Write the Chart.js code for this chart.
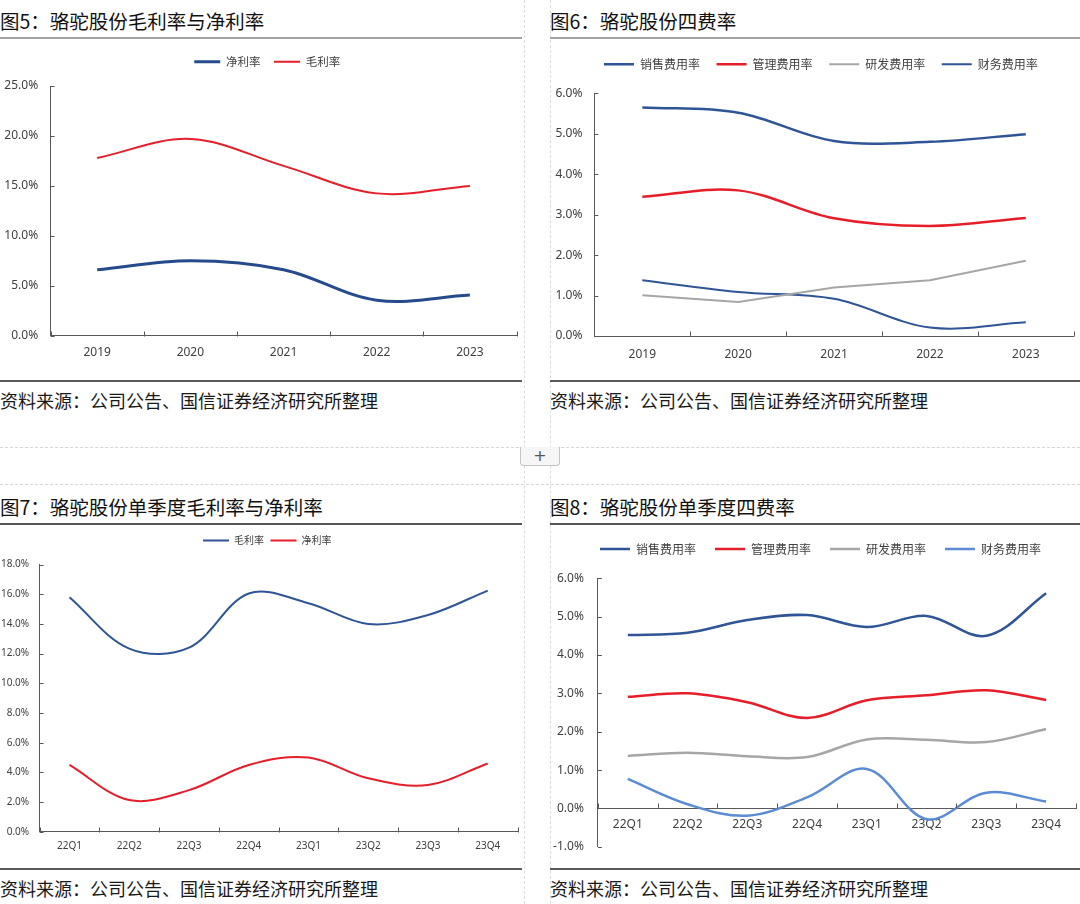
<!DOCTYPE html>
<html>
<head>
<meta charset="utf-8">
<script src="https://cdn.jsdelivr.net/npm/chart.js@4.4.1/dist/chart.umd.min.js"></script>
<style>
    body { margin: 0; width: 1080px; height: 904px; background: #fff; position: relative; overflow: hidden;
           font-family: "Noto Sans CJK SC", "Noto Sans", sans-serif; }
    .abs { position: absolute; }
    .titulo { font-size: 19.5px; line-height: 24px; color: #111; white-space: nowrap; }
    .fuente { font-size: 18px; line-height: 24px; color: #1a1a1a; white-space: nowrap; }
    .dash-h { position: absolute; left: 0; width: 1080px; height: 0; border-top: 1px dashed #d6d6d6; }
    .dash-v { position: absolute; top: 0; height: 904px; width: 0; border-left: 1px dashed #dcdcdc; }
    .boton { position: absolute; left: 520px; top: 447px; width: 40px; height: 19px; background: #f6f6f6;
             border: 1px solid #c4c4c4; border-top: none; border-radius: 0 0 4px 4px; box-sizing: border-box;
             color: #555; font: 16px/18px "DejaVu Sans", sans-serif; text-align: center; }
    canvas { position: absolute; }
</style>
</head>
<body>

<!-- marcos punteados de la tabla -->
<div class="dash-v" style="left:524px"></div>
<div class="dash-v" style="left:550px"></div>
<div class="dash-h" style="top:447px"></div>
<div class="dash-h" style="top:484px"></div>
<div class="boton">+</div>

<!-- panel 5 -->
<div class="abs titulo" style="left:0;top:9px">图5：骆驼股份毛利率与净利率</div>
<div class="abs" style="left:0;top:37px;width:522px;height:2px;background:#a3a3a3"></div>
<canvas id="chart5" width="524" height="340" style="left:0;top:40px"></canvas>
<div class="abs" style="left:0;top:380px;width:522px;height:1.5px;background:#5a5a5a"></div>
<div class="abs fuente" style="left:0;top:388px">资料来源：公司公告、国信证券经济研究所整理</div>

<!-- panel 6 -->
<div class="abs titulo" style="left:550px;top:9px">图6：骆驼股份四费率</div>
<div class="abs" style="left:550px;top:37px;width:530px;height:2px;background:#a3a3a3"></div>
<canvas id="chart6" width="530" height="341" style="left:550px;top:39px"></canvas>
<div class="abs" style="left:550px;top:380px;width:530px;height:1.5px;background:#5a5a5a"></div>
<div class="abs fuente" style="left:550px;top:388px">资料来源：公司公告、国信证券经济研究所整理</div>

<!-- panel 7 -->
<div class="abs titulo" style="left:0;top:495px">图7：骆驼股份单季度毛利率与净利率</div>
<div class="abs" style="left:0;top:523px;width:522px;height:1.5px;background:#555"></div>
<canvas id="chart7" width="524" height="343" style="left:0;top:525px"></canvas>
<div class="abs" style="left:0;top:868px;width:522px;height:1.5px;background:#5a5a5a"></div>
<div class="abs fuente" style="left:0;top:876px">资料来源：公司公告、国信证券经济研究所整理</div>

<!-- panel 8 -->
<div class="abs titulo" style="left:550px;top:495px">图8：骆驼股份单季度四费率</div>
<div class="abs" style="left:550px;top:523px;width:530px;height:1.5px;background:#555"></div>
<canvas id="chart8" width="530" height="345" style="left:550px;top:523px"></canvas>
<div class="abs" style="left:550px;top:868px;width:530px;height:1.5px;background:#5a5a5a"></div>
<div class="abs fuente" style="left:550px;top:876px">资料来源：公司公告、国信证券经济研究所整理</div>

<script>
// Datos anuales (%)
const anios = ['2019', '2020', '2021', '2022', '2023'];
const netoAnual = [6.6, 7.5, 6.6, 3.55, 4.07];
const brutoAnual = [17.8, 19.7, 17.0, 14.25, 15.0];
const ventasAnual = [5.65, 5.52, 4.82, 4.80, 4.99];
const gestionAnual = [3.44, 3.60, 2.91, 2.72, 2.92];
const idAnual = [1.01, 0.84, 1.20, 1.38, 1.86];
const finanzasAnual = [1.38, 1.09, 0.92, 0.21, 0.34];

// Datos trimestrales (%)
const trimestres = ['22Q1', '22Q2', '22Q3', '22Q4', '23Q1', '23Q2', '23Q3', '23Q4'];
const brutoTrim = [15.8, 12.34, 12.4, 16.05, 15.4, 14.0, 14.6, 16.25];
const netoTrim = [4.5, 2.13, 2.8, 4.5, 5.0, 3.6, 3.15, 4.6];
const ventasTrim = [4.52, 4.58, 4.91, 5.04, 4.73, 5.02, 4.50, 5.61];
const gestionTrim = [2.91, 3.00, 2.77, 2.36, 2.82, 2.95, 3.08, 2.83];
const idTrim = [1.37, 1.45, 1.36, 1.34, 1.80, 1.79, 1.73, 2.07];
const finanzasTrim = [0.77, 0.11, -0.19, 0.29, 1.03, -0.28, 0.41, 0.18];

const AZUL = '#2f5597';
const ROJO = '#e61e2a';
const GRIS = '#a6a6a6';
const CELESTE = '#5b8bd4';
const EJE = '#595959';

Chart.defaults.font.family = '"Noto Sans", "Noto Sans CJK SC", sans-serif';
Chart.defaults.color = '#404040';

// Espacio extra debajo de la leyenda y desplazamiento horizontal
const espacioLeyenda = {
    id: 'espacioLeyenda',
    beforeInit(chart, args, opts) {
        const fitOriginal = chart.legend.fit;
        chart.legend.fit = function () {
            fitOriginal.bind(chart.legend)();
            this.height += opts.extra || 0;
        };
    },
    afterLayout(chart, args, opts) {
        const dx = opts.dx || 0;
        chart.legend.left += dx;
        chart.legend.right += dx;
    }
};

// Marcas de eje hacia dentro (estilo Excel)
const marcasInternas = {
    id: 'marcasInternas',
    afterDraw(chart) {
        const ctx = chart.ctx;
        const x = chart.scales.x, y = chart.scales.y;
        const base = Math.round(y.getPixelForValue(0)) + 0.5;
        ctx.save();
        ctx.strokeStyle = EJE;
        ctx.lineWidth = 1;
        ctx.beginPath();
        for (let i = 0; i <= x.ticks.length; i++) {
            const px = Math.round(x.getPixelForValue(i - 0.5)) + 0.5;
            ctx.moveTo(px, base);
            ctx.lineTo(px, base - 5);
        }
        y.ticks.forEach(t => {
            const py = Math.round(y.getPixelForValue(t.value)) + 0.5;
            ctx.moveTo(x.left, py);
            ctx.lineTo(x.left + 4, py);
        });
        ctx.stroke();
        ctx.restore();
    }
};

function serie(label, data, color, ancho, tension) {
    return {
        label: label, data: data, borderColor: color, backgroundColor: color,
        borderWidth: ancho, pointRadius: 0, fill: false,
        tension: tension === undefined ? 0.35 : tension
    };
}

function crearGrafico(id, cfg) {
    new Chart(document.getElementById(id), {
        type: 'line',
        data: { labels: cfg.labels, datasets: cfg.datasets },
        options: {
            responsive: false,
            animation: false,
            layout: { padding: { left: 0, right: cfg.pR, top: cfg.pT, bottom: 0 } },
            plugins: {
                legend: {
                    position: 'top',
                    labels: {
                        usePointStyle: true, pointStyle: 'line', pointStyleWidth: cfg.lineaLeyenda,
                        padding: cfg.padLeyenda, color: '#404040',
                        font: { size: cfg.fuenteLeyenda, family: '"Noto Sans CJK SC", sans-serif' }
                    }
                },
                espacioLeyenda: { extra: cfg.extra, dx: cfg.dx },
                tooltip: { enabled: false }
            },
            scales: {
                x: {
                    offset: true,
                    position: cfg.ejeEnCero ? { y: 0 } : 'bottom',
                    grid: { display: true, drawOnChartArea: false, drawTicks: false },
                    border: { display: true, color: EJE, width: 1 },
                    ticks: { padding: cfg.padX, font: { size: cfg.fuenteEje }, color: '#404040', maxRotation: 0 },
                    afterFit: s => { s.height = cfg.altoX; }
                },
                y: {
                    min: cfg.min, max: cfg.max,
                    grid: { display: true, drawOnChartArea: false, drawTicks: false },
                    border: { display: true, color: EJE, width: 1 },
                    ticks: {
                        stepSize: cfg.paso, padding: cfg.padY, font: { size: cfg.fuenteEje }, color: '#404040',
                        callback: v => v.toFixed(1) + '%'
                    },
                    afterFit: s => { s.width = cfg.anchoY; }
                }
            }
        },
        plugins: [espacioLeyenda, marcasInternas]
    });
}

// 图5
crearGrafico('chart5', {
    labels: anios,
    datasets: [
        serie('净利率', netoAnual, '#264b8c', 3),
        serie('毛利率', brutoAnual, ROJO, 2)
    ],
    min: 0, max: 25, paso: 5,
    pR: 7.5, pT: 2.5, extra: 8.5, anchoY: 50.6, altoX: 44.3, dx: 9,
    fuenteLeyenda: 11.5, lineaLeyenda: 26, padLeyenda: 13.5,
    fuenteEje: 12, padX: 10, padY: 12.5
});

// 图6
crearGrafico('chart6', {
    labels: anios,
    datasets: [
        serie('销售费用率', ventasAnual, AZUL, 2.5),
        serie('管理费用率', gestionAnual, ROJO, 2.5),
        serie('研发费用率', idAnual, GRIS, 2, 0),
        serie('财务费用率', finanzasAnual, AZUL, 2)
    ],
    min: 0, max: 6, paso: 1,
    pR: 6.3, pT: 2.7, extra: 13, anchoY: 44.4, altoX: 44, dx: 9,
    fuenteLeyenda: 12, lineaLeyenda: 30, padLeyenda: 16.6,
    fuenteEje: 12, padX: 11, padY: 12
});

// 图7
crearGrafico('chart7', {
    labels: trimestres,
    datasets: [
        serie('毛利率', brutoTrim, AZUL, 2),
        serie('净利率', netoTrim, ROJO, 2)
    ],
    min: 0, max: 18, paso: 2,
    pR: 6.4, pT: 4, extra: 9.1, anchoY: 39.6, altoX: 36.3, dx: 8.5,
    fuenteLeyenda: 10, lineaLeyenda: 26, padLeyenda: 6.5,
    fuenteEje: 10, padX: 8.5, padY: 10.5
});

// 图8
crearGrafico('chart8', {
    labels: trimestres,
    datasets: [
        serie('销售费用率', ventasTrim, AZUL, 2.5),
        serie('管理费用率', gestionTrim, ROJO, 2.5),
        serie('研发费用率', idTrim, GRIS, 2.5),
        serie('财务费用率', finanzasTrim, CELESTE, 2.5)
    ],
    min: -1, max: 6, paso: 1, ejeEnCero: true,
    pR: 4, pT: 1, extra: 13.3, anchoY: 47.9, altoX: 24.7, dx: 7.5,
    fuenteLeyenda: 12, lineaLeyenda: 30, padLeyenda: 19,
    fuenteEje: 12, padX: 8.5, padY: 14
});
</script>
</body>
</html>
